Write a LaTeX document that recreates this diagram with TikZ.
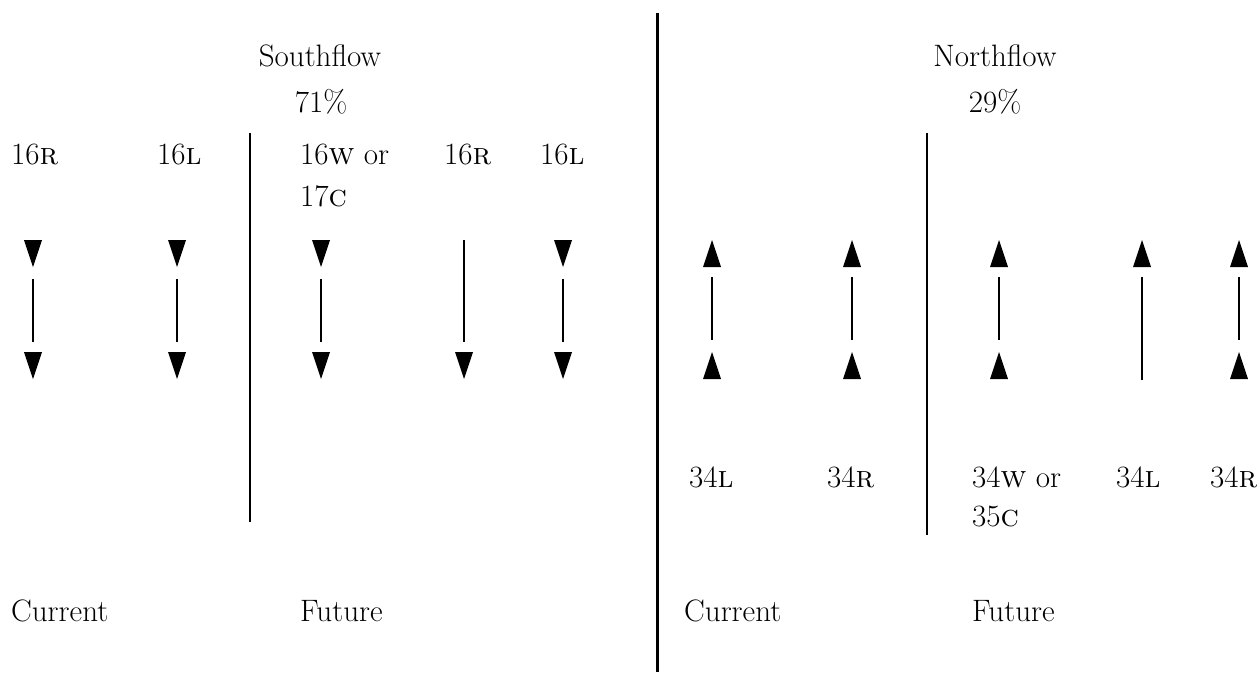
\documentclass[tikz,border=0pt]{standalone}
\usetikzlibrary{calc}

% Runway-direction diagram: south flow (left) and north flow (right)
\tikzset{
  lbl/.style={anchor=base west, inner sep=0pt, font=\fontsize{31}{38}\selectfont},
  ttl/.style={anchor=base, inner sep=0pt, font=\fontsize{31}{38}\selectfont},
  runway/.style={line width=1.2pt},
  divider/.style={line width=1.1pt},
  maindiv/.style={line width=3pt},
}
% filled triangle pointing down / up
\newcommand{\downtri}[2]{\fill (#1-9,#2) -- (#1+9,#2) -- (#1,#2+27) -- cycle;}
\newcommand{\uptri}[2]{\fill (#1,#2) -- (#1+9,#2+27) -- (#1-9,#2+27) -- cycle;}

\begin{document}
\begin{tikzpicture}[x=1pt,y=-1pt]
\useasboundingbox (0,0) rectangle (1260,672);

% dividers
\coordinate (mtop) at (657,13);
\coordinate (mbot) at (657,672);
\draw[maindiv] (mtop) -- (mbot);
\coordinate (ltop) at (250,133);
\coordinate (lbot) at (250,522);
\draw[divider] (ltop) -- (lbot);
\coordinate (rtop) at (927,133);
\coordinate (rbot) at (927,535);
\draw[divider] (rtop) -- (rbot);

% titles
\node[ttl] (south) at (320,66) {Southflow};
\node[ttl] (southpct) at (321,112) {71\%};
\node[ttl] (north) at (995,66) {Northflow};
\node[ttl] (northpct) at (995,112) {29\%};

% south flow runway labels
\node[lbl] (s1) at (11,164) {16\textsc{r}};
\node[lbl] (s2) at (157,164) {16\textsc{l}};
\node[lbl] (s3) at (300,164) {16\textsc{w} or};
\node[lbl] (s3b) at (300,206) {17\textsc{c}};
\node[lbl] (s4) at (444,164) {16\textsc{r}};
\node[lbl] (s5) at (540,164) {16\textsc{l}};

% north flow runway labels
\node[lbl] (n1) at (689,487) {34\textsc{l}};
\node[lbl] (n2) at (827,487) {34\textsc{r}};
\node[lbl] (n3) at (972,487) {34\textsc{w} or};
\node[lbl] (n3b) at (972,526) {35\textsc{c}};
\node[lbl] (n4) at (1116,487) {34\textsc{l}};
\node[lbl] (n5) at (1210,487) {34\textsc{r}};

% current / future
\node[lbl] (cs) at (11,621) {Current};
\node[lbl] (fs) at (300,621) {Future};
\node[lbl] (cn) at (684,621) {Current};
\node[lbl] (fn) at (972,621) {Future};

% south flow arrows
\foreach \x in {33,177,321,563}{
  \downtri{\x}{240}
  \draw[runway] (\x,279) -- (\x,342);
  \downtri{\x}{352}
}
\draw[runway] (464,240) -- (464,342);
\downtri{464}{352}

% north flow arrows
\foreach \x in {712,852,999,1239}{
  \uptri{\x}{240}
  \draw[runway] (\x,277) -- (\x,340);
  \uptri{\x}{352}
}
\uptri{1142}{240}
\draw[runway] (1142,277) -- (1142,380);

\end{tikzpicture}
\end{document}
